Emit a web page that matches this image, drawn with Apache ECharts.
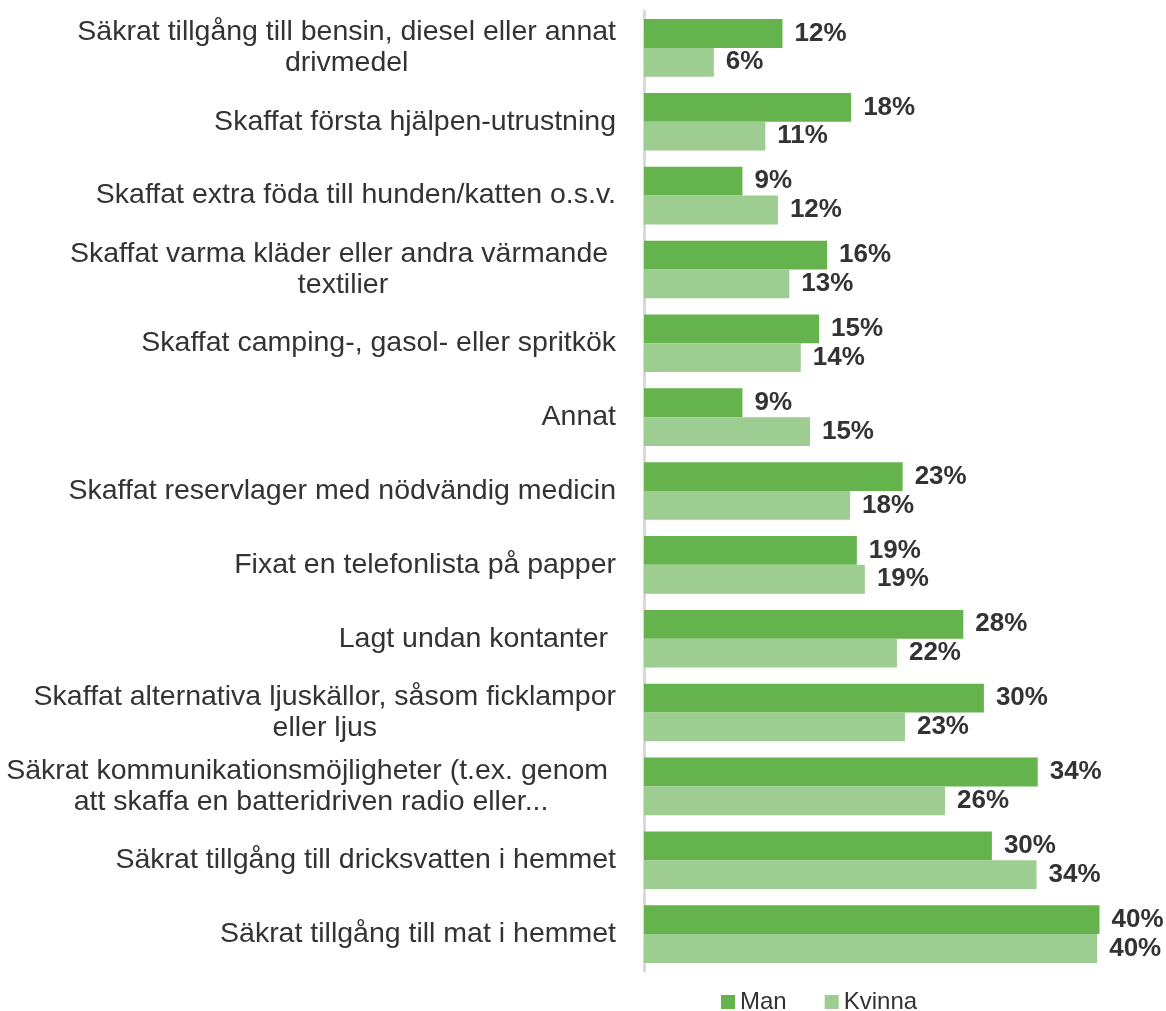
<!DOCTYPE html>
<html>
<head>
<meta charset="utf-8">
<script src="https://cdn.jsdelivr.net/npm/echarts@6/dist/echarts.min.js"></script>
<style>
  html, body { margin: 0; padding: 0; background: #fff; }
  #chart { width: 1166px; height: 1011px; }
</style>
</head>
<body>
<div id="chart"></div>
<script>
// kategorier uppifrån och ned
var categories = [
  'Säkrat tillgång till bensin, diesel eller annat\ndrivmedel',
  'Skaffat första hjälpen-utrustning',
  'Skaffat extra föda till hunden/katten o.s.v.',
  'Skaffat varma kläder eller andra värmande \ntextilier',
  'Skaffat camping-, gasol- eller spritkök',
  'Annat',
  'Skaffat reservlager med nödvändig medicin',
  'Fixat en telefonlista på papper',
  'Lagt undan kontanter ',
  'Skaffat alternativa ljuskällor, såsom ficklampor\neller ljus',
  'Säkrat kommunikationsmöjligheter (t.ex. genom \natt skaffa en batteridriven radio eller...',
  'Säkrat tillgång till dricksvatten i hemmet',
  'Säkrat tillgång till mat i hemmet'
]

var seriesNames = ['Man', 'Kvinna']

var man = [12.1, 18.1, 8.6, 16.0, 15.3, 8.6, 22.6, 18.6, 27.9, 29.7, 34.4, 30.4, 39.8]
var kvinna = [6.1, 10.6, 11.7, 12.7, 13.7, 14.5, 18.0, 19.3, 22.1, 22.8, 26.3, 34.3, 39.6]

var colors = ['#64b34c', '#9ecd91']
var font = "'Liberation Sans', Arial, sans-serif"

var chart = echarts.init(document.getElementById('chart'))

function barLabel() {
  return {
    show: true,
    position: 'right',
    distance: 12,
    fontFamily: font,
    fontSize: 26,
    fontWeight: 'bold',
    color: '#333',
    formatter: function (p) {
      return Math.round(p.value) + '%'
    }
  }
}

var option = {
  animation: false,
  color: colors,
  grid: { left: 644, right: 7, top: 11, bottom: 40, containLabel: false },
  legend: {
    data: seriesNames,
    left: 716,
    top: 985,
    itemWidth: 14,
    itemHeight: 14,
    itemGap: 38,
    icon: 'rect',
    textStyle: { fontFamily: font, fontSize: 24, color: '#333' }
  },
  xAxis: {
    type: 'value',
    min: 0,
    max: 45,
    show: false
  },
  yAxis: {
    type: 'category',
    inverse: true,
    data: categories,
    offset: 3,
    axisLine: { show: true, lineStyle: { color: '#d9d9d9', width: 3 } },
    axisTick: { show: false },
    splitLine: { show: false },
    axisLabel: {
      margin: 25,
      color: '#333',
      fontFamily: font,
      fontSize: 28.5,
      lineHeight: 31,
      formatter: function (v) {
        return v.split('\n').map(function (l) { return '{c|' + l + '}' }).join('\n')
      },
      rich: {
        c: { align: 'center', fontFamily: font, fontSize: 28.5, lineHeight: 31, color: '#333' }
      }
    }
  },
  series: [
    {
      name: seriesNames[0],
      type: 'bar',
      data: man,
      barGap: '0%',
      barCategoryGap: '22%',
      label: barLabel()
    },
    {
      name: seriesNames[1],
      type: 'bar',
      data: kvinna,
      label: barLabel()
    }
  ]
}

chart.setOption(option)
</script>
</body>
</html>
